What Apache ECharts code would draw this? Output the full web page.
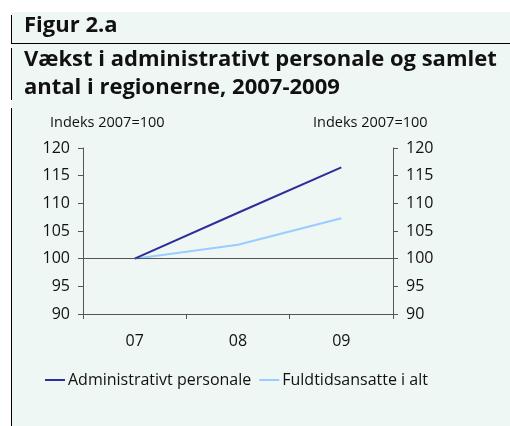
<!DOCTYPE html>
<html>
<head>
<meta charset="utf-8">
<script src="https://cdn.jsdelivr.net/npm/echarts@6/dist/echarts.min.js"></script>
<style>
  html, body { margin: 0; padding: 0; background: #fff; }
  #chart { width: 510px; height: 426px; }
</style>
</head>
<body>
<div id="chart"></div>
<script>
// data
const years = ['07', '08', '09'];
const adminStaff = [100, 108.3, 116.5];
const allStaff = [100, 102.5, 107.3];
const seriesNames = ['Administrativt personale', 'Fuldtidsansatte i alt'];

const font = '"Open Sans", "Noto Sans", sans-serif';
const chart = echarts.init(document.getElementById('chart'));

function valueAxis(pos) {
    return {
        type: 'value',
        position: pos,
        min: 90,
        max: 120,
        interval: 5,
        axisLine: { show: true, lineStyle: { color: '#555', width: 1 } },
        axisTick: { show: true, length: 5, lineStyle: { color: '#555' } },
        axisLabel: { color: '#111', fontSize: 16, fontFamily: font, margin: 13 },
        splitLine: { show: false }
    };
}

let option = {
    backgroundColor: '#fff',
    animation: false,
    graphic: [
        { type: 'rect', shape: { x: 11, y: 12, width: 499, height: 414 }, style: { fill: '#eff7f4' }, z: -10 },
        { type: 'line', shape: { x1: 11.5, y1: 15, x2: 11.5, y2: 43 }, style: { stroke: '#000', lineWidth: 1 } },
        { type: 'line', shape: { x1: 11.5, y1: 48, x2: 11.5, y2: 100 }, style: { stroke: '#000', lineWidth: 1 } },
        { type: 'line', shape: { x1: 11.5, y1: 108, x2: 11.5, y2: 426 }, style: { stroke: '#000', lineWidth: 1 } },
        { type: 'line', shape: { x1: 11, y1: 43.5, x2: 510, y2: 43.5 }, style: { stroke: '#000', lineWidth: 1 } },
        { type: 'text', left: 24, top: 15, style: { text: 'Figur 2.a', font: 'bold 22px ' + font, fill: '#111' } },
        { type: 'text', left: 24, top: 46, style: { text: 'Vækst i administrativt personale og samlet\nantal i regionerne, 2007-2009', font: 'bold 22px ' + font, fill: '#111', lineHeight: 28 } },
        { type: 'text', left: 50, top: 115, style: { text: 'Indeks 2007=100', font: '14.5px ' + font, fill: '#111' } },
        { type: 'text', left: 313, top: 115, style: { text: 'Indeks 2007=100', font: '14.5px ' + font, fill: '#111' } }
    ],
    legend: {
        left: 40,
        top: 367,
        itemWidth: 20,
        itemHeight: 2,
        itemGap: 8,
        icon: 'rect',
        textStyle: { color: '#111', fontSize: 16, fontFamily: font, padding: [0, 0, 0, -2] },
        data: seriesNames
    },
    grid: { left: 83, right: 117, top: 148, bottom: 112 },
    xAxis: {
        type: 'category',
        data: years,
        boundaryGap: true,
        axisLine: { lineStyle: { color: '#555', width: 1 } },
        axisTick: { show: true, length: 5, lineStyle: { color: '#555' } },
        axisLabel: { color: '#111', fontSize: 16, fontFamily: font, margin: 19 }
    },
    yAxis: [valueAxis('left'), valueAxis('right')],
    series: [
        {
            name: seriesNames[0],
            type: 'line',
            data: adminStaff,
            symbol: 'none',
            color: '#2e2e9a',
            lineStyle: { width: 2 },
            markLine: {
                silent: true,
                symbol: 'none',
                label: { show: false },
                lineStyle: { color: '#555', width: 1, type: 'solid' },
                data: [{ yAxis: 100 }]
            },
            z: 3
        },
        {
            name: seriesNames[1],
            type: 'line',
            data: allStaff,
            symbol: 'none',
            color: '#99ccff',
            lineStyle: { width: 2 },
            z: 2
        }
    ]
};
chart.setOption(option);
</script>
</body>
</html>
